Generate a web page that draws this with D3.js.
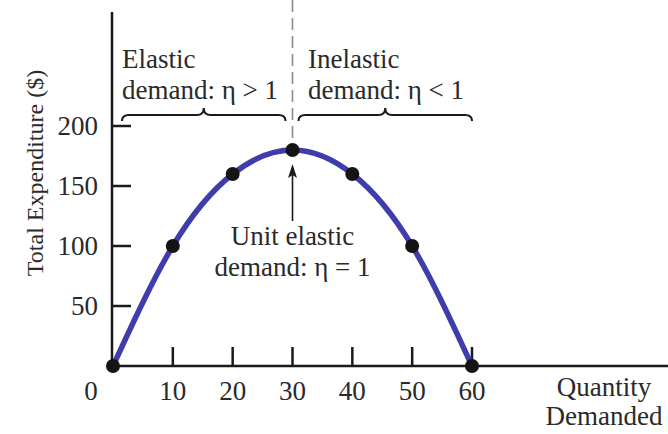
<!DOCTYPE html>
<html>
<head>
<meta charset="utf-8">
<script src="https://cdn.jsdelivr.net/npm/d3@7"></script>
<style>
  body { margin: 0; background: #fff; }
  text { font-family: "Liberation Serif", "DejaVu Serif", serif; fill: #2a2a2a; }
</style>
</head>
<body>
<div id="container"></div>
<script>
// Data
var quantity = [0, 10, 20, 30, 40, 50, 60];       // quantity demanded
var expenditure = [0, 100, 160, 180, 160, 100, 0]; // total expenditure ($)
var xTicks = [10, 20, 30, 40, 50, 60];
var yTicks = [50, 100, 150, 200];

var w = 668, h = 434;
var fontSize = 27;

var x = d3.scaleLinear().domain([0, 60]).range([113, 472]);
var y = d3.scaleLinear().domain([0, 200]).range([366, 126]);

var svg = d3.select("#container").append("svg")
  .attr("width", w)
  .attr("height", h);

var points = quantity.map(function(q, i) { return { q: q, e: expenditure[i] }; });

// Axes lines
svg.append("line")
  .attr("x1", x(0) - 1).attr("x2", w)
  .attr("y1", y(0)).attr("y2", y(0))
  .attr("stroke", "#1a1a1a").attr("stroke-width", 2.5);
svg.append("line")
  .attr("x1", x(0) - 1).attr("x2", x(0) - 1)
  .attr("y1", 12).attr("y2", y(0) + 1)
  .attr("stroke", "#1a1a1a").attr("stroke-width", 2.5);

// x ticks (pointing up)
svg.selectAll("line.xtick")
  .data(xTicks)
  .enter()
  .append("line")
  .attr("class", "xtick")
  .attr("x1", function(d) { return x(d); })
  .attr("x2", function(d) { return x(d); })
  .attr("y1", y(0)).attr("y2", y(0) - 19)
  .attr("stroke", "#1a1a1a").attr("stroke-width", 2.5);

svg.selectAll("text.xlab")
  .data([0].concat(xTicks))
  .enter()
  .append("text")
  .attr("class", "xlab")
  .attr("x", function(d) { return d == 0 ? x(0) - 22 : x(d); })
  .attr("y", 400)
  .attr("text-anchor", "middle")
  .attr("font-size", fontSize)
  .text(function(d) { return d; });

// y ticks (pointing right)
svg.selectAll("line.ytick")
  .data(yTicks)
  .enter()
  .append("line")
  .attr("class", "ytick")
  .attr("x1", x(0) - 1).attr("x2", x(0) + 18)
  .attr("y1", function(d) { return y(d); })
  .attr("y2", function(d) { return y(d); })
  .attr("stroke", "#1a1a1a").attr("stroke-width", 2.5);

svg.selectAll("text.ylab")
  .data(yTicks)
  .enter()
  .append("text")
  .attr("class", "ylab")
  .attr("x", 98)
  .attr("y", function(d) { return y(d); })
  .attr("dy", "0.35em")
  .attr("text-anchor", "end")
  .attr("font-size", fontSize)
  .text(function(d) { return d; });

// Axis titles
svg.append("text")
  .attr("transform", "translate(43," + 173 + ") rotate(-90)")
  .attr("text-anchor", "middle")
  .attr("font-size", 24)
  .text("Total Expenditure ($)");

svg.append("text")
  .attr("x", 604).attr("y", 396)
  .attr("text-anchor", "middle")
  .attr("font-size", fontSize)
  .text("Quantity");
svg.append("text")
  .attr("x", 604).attr("y", 425)
  .attr("text-anchor", "middle")
  .attr("font-size", fontSize)
  .text("Demanded");

// Dashed line at unit elasticity
svg.append("line")
  .attr("x1", x(30)).attr("x2", x(30))
  .attr("y1", 0).attr("y2", y(180))
  .attr("stroke", "#8a8a8a").attr("stroke-width", 1.6)
  .attr("stroke-dasharray", "12,6");

// Curve
var line = d3.line()
  .x(function(d) { return x(d.q); })
  .y(function(d) { return y(d.e); })
  .curve(d3.curveNatural);

svg.append("path")
  .datum(points)
  .attr("d", line)
  .attr("fill", "none")
  .attr("stroke", "#3f3dac")
  .attr("stroke-width", 5.5);

svg.selectAll("circle.pt")
  .data(points)
  .enter()
  .append("circle")
  .attr("class", "pt")
  .attr("cx", function(d) { return x(d.q); })
  .attr("cy", function(d) { return y(d.e); })
  .attr("r", 7)
  .attr("fill", "#141414");

// Braces
function brace(x1, x2, yLine) {
  var xm = (x1 + x2) / 2;
  return "M" + x1 + "," + (yLine + 6) +
    " Q" + x1 + "," + yLine + " " + (x1 + 7) + "," + yLine +
    " L" + (xm - 7) + "," + yLine +
    " Q" + xm + "," + yLine + " " + xm + "," + (yLine - 7) +
    " Q" + xm + "," + yLine + " " + (xm + 7) + "," + yLine +
    " L" + (x2 - 7) + "," + yLine +
    " Q" + x2 + "," + yLine + " " + x2 + "," + (yLine + 6);
}
svg.append("path")
  .attr("d", brace(x(0) + 9, x(30) - 7, 115))
  .attr("fill", "none").attr("stroke", "#1a1a1a").attr("stroke-width", 2);
svg.append("path")
  .attr("d", brace(x(30) + 6, x(60), 115))
  .attr("fill", "none").attr("stroke", "#1a1a1a").attr("stroke-width", 2);

// Labels over braces
svg.append("text").attr("x", 122).attr("y", 68).attr("font-size", fontSize).text("Elastic");
svg.append("text").attr("x", 122).attr("y", 99).attr("font-size", fontSize).text("demand: η > 1");
svg.append("text").attr("x", 308).attr("y", 68).attr("font-size", fontSize).text("Inelastic");
svg.append("text").attr("x", 308).attr("y", 99).attr("font-size", fontSize).text("demand: η < 1");

// Arrow to the peak
svg.append("line")
  .attr("x1", x(30)).attr("x2", x(30))
  .attr("y1", 221).attr("y2", 172)
  .attr("stroke", "#1a1a1a").attr("stroke-width", 1.6);
svg.append("path")
  .attr("d", "M" + x(30) + ",164 L" + (x(30) - 4.5) + ",178 L" + x(30) + ",175 L" + (x(30) + 4.5) + ",178 Z")
  .attr("fill", "#1a1a1a");

svg.append("text").attr("x", x(30)).attr("y", 245)
  .attr("text-anchor", "middle").attr("font-size", fontSize).text("Unit elastic");
svg.append("text").attr("x", x(30)).attr("y", 276)
  .attr("text-anchor", "middle").attr("font-size", fontSize).text("demand: η = 1");
</script>
</body>
</html>
